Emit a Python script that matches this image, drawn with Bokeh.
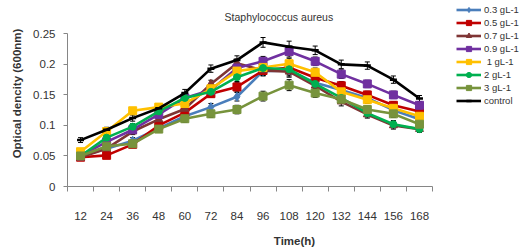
from bokeh.plotting import figure
from bokeh.models import (ColumnDataSource, FixedTicker, NumeralTickFormatter,
                          Legend, LegendItem, Range1d, Whisker, TeeHead, Label)
from bokeh.embed import file_html
from bokeh.resources import INLINE

# ---- data ----
hours = [12, 24, 36, 48, 60, 72, 84, 96, 108, 120, 132, 144, 156, 168]
hour_edges = [6, 18, 30, 42, 54, 66, 78, 90, 102, 114, 126, 138, 150, 162, 174]
y_ticks = [0, 0.05, 0.1, 0.15, 0.2, 0.25]

s_03 = [0.050, 0.062, 0.075, 0.095, 0.115, 0.130, 0.147, 0.189, 0.190, 0.170, 0.158, 0.145, 0.125, 0.110]
s_05 = [0.048, 0.051, 0.069, 0.100, 0.121, 0.152, 0.163, 0.190, 0.195, 0.178, 0.165, 0.150, 0.133, 0.123]
s_07 = [0.048, 0.062, 0.090, 0.110, 0.127, 0.168, 0.202, 0.190, 0.188, 0.165, 0.139, 0.118, 0.100, 0.094]
s_09 = [0.050, 0.073, 0.093, 0.118, 0.145, 0.158, 0.194, 0.205, 0.221, 0.205, 0.184, 0.168, 0.150, 0.133]
s_1 = [0.057, 0.090, 0.124, 0.130, 0.136, 0.160, 0.189, 0.195, 0.201, 0.187, 0.155, 0.142, 0.128, 0.115]
s_2 = [0.050, 0.080, 0.098, 0.123, 0.145, 0.155, 0.179, 0.194, 0.192, 0.168, 0.145, 0.120, 0.102, 0.094]
s_3 = [0.050, 0.066, 0.070, 0.094, 0.111, 0.119, 0.126, 0.148, 0.166, 0.153, 0.143, 0.126, 0.119, 0.102]
s_control = [0.076, 0.093, 0.112, 0.128, 0.153, 0.193, 0.207, 0.236, 0.229, 0.223, 0.200, 0.198, 0.175, 0.144]
err = [0.004, 0.004, 0.005, 0.005, 0.006, 0.006, 0.007, 0.008, 0.009, 0.007, 0.007, 0.006, 0.006, 0.005]

labels = ["0.3 gL-1", "0.5 gL-1", "0.7 gL-1", "0.9 gL-1", " 1 gL-1", "2 gL-1", "3 gL-1", "control"]
series = [s_03, s_05, s_07, s_09, s_1, s_2, s_3, s_control]
colors = ["#4A7EBB", "#C00000", "#7F3535", "#7030A0", "#FFC000", "#00B050", "#77933C", "#000000"]
markers = ["diamond", "square", "triangle", "square", "square", "circle", "square", "dash"]
msizes = [9, 8, 8, 8, 8, 7, 8, 7]

FONT = "Liberation Sans"
TXT = "#333333"
AX = "#868686"

# frame spans the whole area right of the y axis and above the x axis;
# the axes are bounded to the data area (6..174, 0..0.25)
p = figure(width=521, height=249, output_backend="svg", toolbar_location=None,
           x_range=Range1d(6, 214.96), y_range=Range1d(0, 0.3046),
           min_border_left=67, min_border_right=0, min_border_top=0, min_border_bottom=56)
p.title = None
p.outline_line_color = None
p.xgrid.grid_line_color = None
p.ygrid.grid_line_color = None
p.background_fill_color = "white"
p.border_fill_color = "white"

p.add_layout(Label(x=78.3, y=0.2777, text="Staphylococcus aureus", text_font=FONT,
                   text_font_size="10.5px", text_color=TXT, text_align="left",
                   text_baseline="middle"))

# x axis
xa = p.xaxis[0]
xa.bounds = (6, 174)
xa.ticker = FixedTicker(ticks=hours, minor_ticks=hour_edges)
xa.major_tick_out = 0
xa.major_tick_in = 0
xa.minor_tick_out = 5
xa.minor_tick_in = 0
xa.minor_tick_line_color = AX
xa.axis_line_color = AX
xa.major_label_standoff = 20
xa.major_label_text_font = FONT
xa.major_label_text_font_size = "11.5px"
xa.major_label_text_color = TXT
xa.axis_label = "Time(h)"
xa.axis_label_text_font = FONT
xa.axis_label_text_font_size = "11.5px"
xa.axis_label_text_font_style = "bold"
xa.axis_label_text_color = TXT
xa.axis_label_standoff = 12

# y axis
ya = p.yaxis[0]
ya.bounds = (0, 0.25)
ya.ticker = FixedTicker(ticks=y_ticks, minor_ticks=[])
ya.formatter = NumeralTickFormatter(format="0.[00]")
ya.major_tick_out = 4
ya.major_tick_in = 0
ya.minor_tick_out = 0
ya.minor_tick_in = 0
ya.major_tick_line_color = AX
ya.axis_line_color = AX
ya.major_label_standoff = 8
ya.major_label_text_font = FONT
ya.major_label_text_font_size = "11.5px"
ya.major_label_text_color = TXT
ya.axis_label = "Optical dencity (600nm)"
ya.axis_label_text_font = FONT
ya.axis_label_text_font_size = "11.5px"
ya.axis_label_text_font_style = "bold"
ya.axis_label_text_color = TXT
ya.axis_label_standoff = 7

items = []
for vals, lab, col, mk, ms in zip(series, labels, colors, markers, msizes):
    src = ColumnDataSource(dict(x=hours, y=vals,
                                lo=[v - e for v, e in zip(vals, err)],
                                hi=[v + e for v, e in zip(vals, err)]))
    w = Whisker(source=src, base="x", lower="lo", upper="hi", dimension="height",
                line_color="black", line_width=1, level="underlay",
                upper_head=TeeHead(size=5, line_color="black", line_width=1),
                lower_head=TeeHead(size=5, line_color="black", line_width=1))
    p.add_layout(w)
    r_line = p.line("x", "y", source=src, line_color=col, line_width=2.6)
    if mk == "dash":
        r_mk = p.scatter("x", "y", source=src, marker=mk, size=ms, line_color=col, line_width=2.5)
    else:
        r_mk = p.scatter("x", "y", source=src, marker=mk, size=ms, fill_color=col, line_color=col)
    items.append(LegendItem(label=lab, renderers=[r_line, r_mk]))

legend = Legend(items=items, location=(389, 79), padding=0, margin=0,
                spacing=0, glyph_width=25, glyph_height=13, label_height=13,
                label_standoff=3, label_text_font=FONT, label_text_font_size="9.5px",
                label_text_color=TXT, border_line_color=None,
                background_fill_alpha=0)
p.add_layout(legend)

open("out.html", "w").write(file_html(p, INLINE))
